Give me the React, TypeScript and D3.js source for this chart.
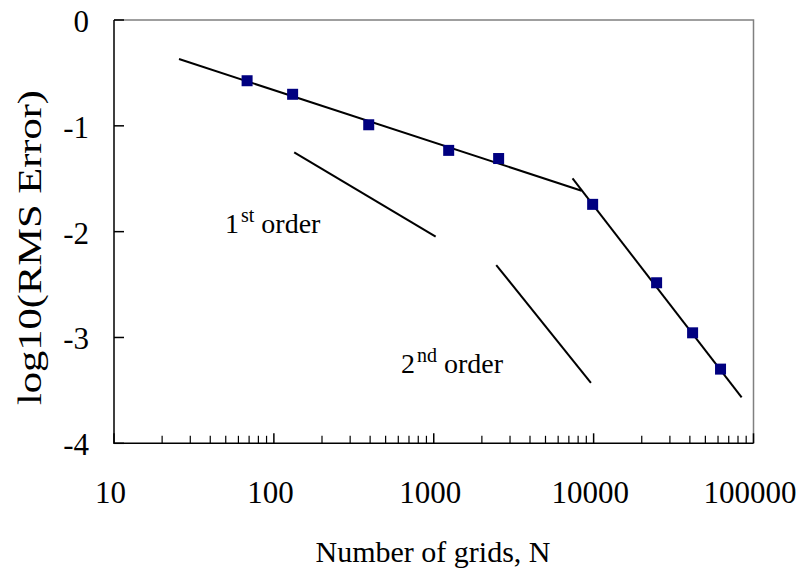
import { useEffect, useRef } from "react";
import * as d3 from "d3";

// measured points
const gridN = [68, 131, 392, 1240, 2546, 9860, 24770, 41600, 62200];
const logErr = [-0.574, -0.702, -0.99, -1.232, -1.309, -1.742, -2.483, -2.956, -3.299];

// trend lines (endpoints)
const coarseFitN = [25.5, 8410];
const coarseFitY = [-0.369, -1.613];
const fineFitN = [7380, 84300];
const fineFitY = [-1.496, -3.566];

// slope guides
const firstOrderN = [134, 1028];
const firstOrderY = [-1.25, -2.048];
const secondOrderN = [2460, 9620];
const secondOrderY = [-2.316, -3.428];

const xTicks = [10, 100, 1000, 10000, 100000];
const yTicks = [0, -1, -2, -3, -4];

const FONT = "'Liberation Serif', 'Times New Roman', serif";

export default function App() {
  const svgRef = useRef<SVGSVGElement>(null);
  const width = 800;
  const height = 569;

  useEffect(() => {
    if (!svgRef.current) return;
    const svg = d3.select(svgRef.current);
    svg.selectAll("*").remove();

    const x = d3.scaleLog().domain([10, 100000]).range([114, 753.5]);
    const y = d3.scaleLinear().domain([-4, 0]).range([443.3, 20]);
    const [x0, x1] = x.range();
    const [y0, y1] = y.range();

    // plot area border (gray top/right)
    svg
      .append("path")
      .attr("d", `M${x0},${y1}H${x1}V${y0}`)
      .attr("fill", "none")
      .attr("stroke", "#808080")
      .attr("stroke-width", 1.5);

    // axes
    svg
      .append("path")
      .attr("d", `M${x0},${y1}V${y0}H${x1}`)
      .attr("fill", "none")
      .attr("stroke", "#000")
      .attr("stroke-width", 1.5);

    // y ticks, pointing inward
    svg
      .selectAll(".ytick")
      .data(yTicks)
      .enter()
      .append("line")
      .attr("x1", x0)
      .attr("x2", x0 + 10)
      .attr("y1", (d) => y(d))
      .attr("y2", (d) => y(d))
      .attr("stroke", "#000")
      .attr("stroke-width", 1.5);

    svg
      .selectAll(".ylabel")
      .data(yTicks)
      .enter()
      .append("text")
      .attr("x", 89)
      .attr("y", (d) => y(d) + 12)
      .attr("text-anchor", "end")
      .style("font-family", FONT)
      .style("font-size", "31px")
      .text((d) => String(d));

    // x ticks: major + minor
    const minor: number[] = [];
    for (let i = 0; i < xTicks.length - 1; i++) {
      for (let k = 2; k <= 9; k++) minor.push(xTicks[i] * k);
    }
    svg
      .selectAll(".xminor")
      .data(minor)
      .enter()
      .append("line")
      .attr("x1", (d) => x(d))
      .attr("x2", (d) => x(d))
      .attr("y1", y0)
      .attr("y2", y0 - 7.5)
      .attr("stroke", "#000")
      .attr("stroke-width", 1.2);

    svg
      .selectAll(".xmajor")
      .data(xTicks)
      .enter()
      .append("line")
      .attr("x1", (d) => x(d))
      .attr("x2", (d) => x(d))
      .attr("y1", y0)
      .attr("y2", y0 - 10)
      .attr("stroke", "#000")
      .attr("stroke-width", 1.5);

    svg
      .selectAll(".xlabel")
      .data(xTicks)
      .enter()
      .append("text")
      .attr("x", (d) => x(d) - 3.5)
      .attr("y", 503)
      .attr("text-anchor", "middle")
      .style("font-family", FONT)
      .style("font-size", "31px")
      .text((d) => String(d));

    // axis titles
    svg
      .append("text")
      .attr("x", 433)
      .attr("y", 561.5)
      .attr("text-anchor", "middle")
      .style("font-family", FONT)
      .style("font-size", "30px")
      .text("Number of grids, N");

    svg
      .append("text")
      .attr("transform", "translate(41,247.5) rotate(-90)")
      .attr("text-anchor", "middle")
      .attr("textLength", 315)
      .attr("lengthAdjust", "spacingAndGlyphs")
      .style("font-family", FONT)
      .style("font-size", "33px")
      .text("log10(RMS Error)");

    // straight line segments
    const seg = (ns: number[], vs: number[]) =>
      d3
        .line<number>()
        .x((n) => x(n))
        .y((_n, i) => y(vs[i]))(ns);

    const segs: [number[], number[]][] = [
      [coarseFitN, coarseFitY],
      [fineFitN, fineFitY],
      [firstOrderN, firstOrderY],
      [secondOrderN, secondOrderY],
    ];
    segs.forEach(([ns, vs]) => {
      svg
        .append("path")
        .attr("d", seg(ns, vs))
        .attr("fill", "none")
        .attr("stroke", "#000")
        .attr("stroke-width", 2);
    });

    // markers
    const s = 11;
    svg
      .selectAll(".pt")
      .data(gridN)
      .enter()
      .append("rect")
      .attr("x", (d) => x(d) - s / 2)
      .attr("y", (_d, i) => y(logErr[i]) - s / 2)
      .attr("width", s)
      .attr("height", s)
      .attr("fill", "#000080");

    // order labels with superscripts
    const orderLabel = (lx: number, ly: number, num: string, sup: string) => {
      const t = svg
        .append("text")
        .attr("x", lx)
        .attr("y", ly)
        .style("font-family", FONT)
        .style("font-size", "28px");
      t.append("tspan").text(num);
      t.append("tspan")
        .attr("dx", 2)
        .attr("dy", -11)
        .style("font-size", "20px")
        .text(sup);
      t.append("tspan").attr("dy", 11).text(" order");
    };
    orderLabel(225, 233, "1", "st");
    orderLabel(401, 373, "2", "nd");
  }, []);

  return (
    <svg
      ref={svgRef}
      width={width}
      height={height}
      viewBox={`0 0 ${width} ${height}`}
      style={{ position: "absolute", left: 0, top: 0, background: "#fff" }}
    />
  );
}
